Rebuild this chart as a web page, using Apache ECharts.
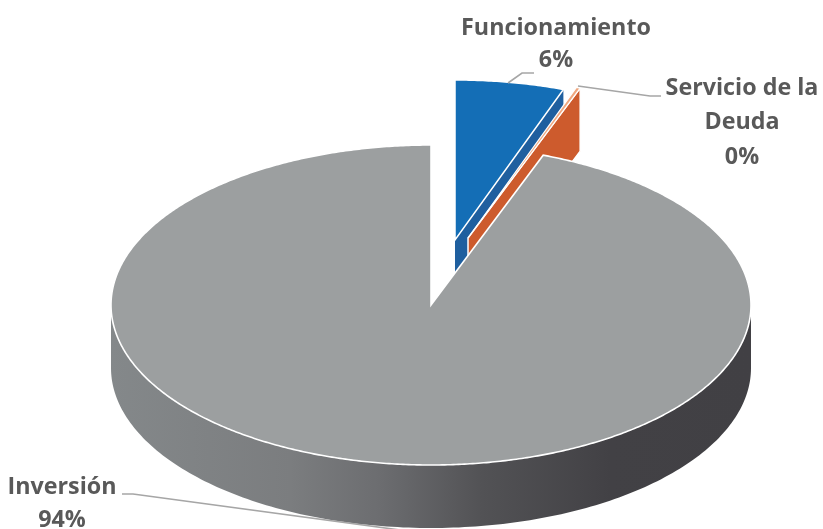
<!DOCTYPE html>
<html><head><meta charset="utf-8">
<style>html,body{margin:0;padding:0;background:#fff}#c{width:823px;height:529px}</style>
<script src="https://cdn.jsdelivr.net/npm/echarts@6/dist/echarts.min.js"></script>
</head><body><div id="c"></div>
<script>
const categories = ['Funcionamiento', 'Servicio de la\nDeuda', 'Inversión'];
const shares = [5.5, 0.2, 94.3];
const percentLabels = ['6%', '0%', '94%'];

const RX = 320, RY = 160, DEPTH = 63, CX = 431, CY = 305;
const looks = [
  { dx: 24, dy: -65, top: '#146eb6', side: '#1f5f9f', sw: 1.5 },
  { dx: 37, dy: -67, top: '#f0a77f', side: '#cd5b2d', sw: 1.2 },
  { dx: 0, dy: 0, top: '#9c9fa0', sw: 1.6,
    side: new echarts.graphic.LinearGradient(0, 0, 1, 0, [
      { offset: 0, color: '#84888a' }, { offset: 0.28, color: '#7b7d7f' },
      { offset: 0.42, color: '#6c6d70' }, { offset: 0.58, color: '#525255' },
      { offset: 0.78, color: '#424145' }, { offset: 1, color: '#414044' }]) }
];
const labelBoxes = [
  { x: 556, y: [28, 60] },
  { x: 742, y: [88, 122, 157] },
  { x: 62, y: [487, 520] }
];
const leaders = [
  [[508, 83], [522, 73], [534, 73]],
  [[578, 86], [650, 96], [661, 96]],
  [[122, 494], [133, 494], [400, 530]]
];

const cum = [];
shares.reduce((s, v, i) => (cum[i] = s, s + v), 0);

function renderItem(params, api) {
  const i = params.dataIndex, L = looks[i];
  const t1 = cum[i] * 3.6, t2 = (cum[i] + api.value(0)) * 3.6;
  const ax = CX + L.dx, ay = CY + L.dy;
  const pt = (t, d) => [ax + RX * Math.sin(t * Math.PI / 180), ay - RY * Math.cos(t * Math.PI / 180) + (d || 0)];
  const children = [];
  const side = [];
  if (t2 < 180) {
    side.push([ax, ay], pt(t2), pt(t2, DEPTH), [ax, ay + DEPTH]);
  } else {
    const a = Math.max(t1, 90), b = Math.min(t2, 270);
    for (let t = a; t <= b; t += 1) side.push(pt(t));
    for (let t = b; t >= a; t -= 1) side.push(pt(t, DEPTH));
  }
  children.push({ type: 'polygon', shape: { points: side },
    style: { fill: L.side, stroke: i === 1 ? '#fff' : null, lineWidth: i === 1 ? 1.5 : 0 } });
  const top = [[ax, ay]];
  for (let t = t1; t < t2; t += 0.5) top.push(pt(t));
  top.push(pt(t2));
  children.push({ type: 'polygon', shape: { points: top },
    style: { fill: L.top, stroke: '#fff', lineWidth: L.sw, lineJoin: 'miter' } });
  children.push({ type: 'polyline', shape: { points: leaders[i] },
    style: { fill: null, stroke: '#a6a6a6', lineWidth: 1.6 } });
  const lines = categories[i].split('\n').concat(percentLabels[i]);
  lines.forEach((s, k) => children.push({ type: 'text',
    style: { text: s, x: labelBoxes[i].x, y: labelBoxes[i].y[k], align: 'center', verticalAlign: 'middle',
      fill: '#595959', font: 'bold 23.3px "Open Sans", Lato, sans-serif' } }));
  return { type: 'group', children };
}

const chart = echarts.init(document.getElementById('c'), null, { renderer: 'canvas' });
chart.setOption({
  animation: false,
  backgroundColor: '#fff',
  series: [{ type: 'custom', coordinateSystem: 'none', renderItem, clip: false,
    data: shares.map((v, i) => ({ name: categories[i], value: [v] })) }]
});
</script></body></html>
